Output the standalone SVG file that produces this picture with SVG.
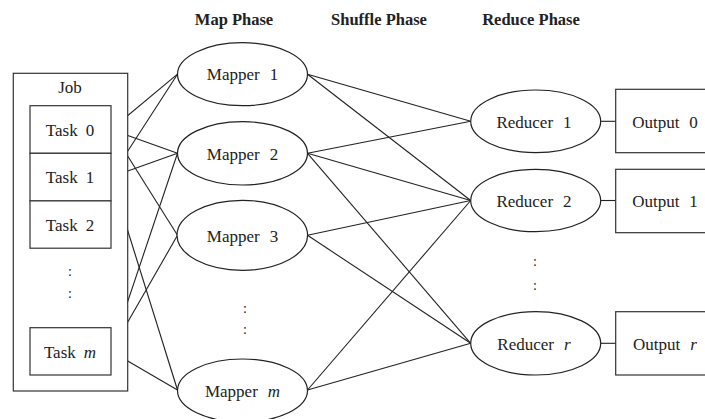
<svg xmlns="http://www.w3.org/2000/svg" width="705" height="419" viewBox="0 0 705 419">
  <style>
    .box { fill: #fff; stroke: #333; stroke-width: 1.2; }
    .node { fill: #fff; stroke: #222; stroke-width: 1.2; }
    .edge { stroke: #222; stroke-width: 1.1; fill: none; }
    text { font-family: "Liberation Serif", "Times New Roman", serif; font-size: 17px; fill: #222; text-anchor: middle; }
    .head { font-weight: bold; font-size: 16.5px; }
    .dots { font-size: 14px; }
    .it { font-style: italic; }
  </style>
  <rect width="705" height="419" fill="#fff"/>

  <!-- phase headers -->
  <g id="headers">
    <text class="head" x="234" y="25">Map Phase</text>
    <text class="head" x="379" y="25">Shuffle Phase</text>
    <text class="head" x="531" y="25">Reduce Phase</text>
  </g>

  <!-- connectors -->
  <g id="connectors">
    <!-- tasks to mappers -->
    <line class="edge" x1="111" y1="129.5" x2="177.5" y2="74.2"/>
    <line class="edge" x1="111" y1="129.5" x2="177.5" y2="153.3"/>
    <line class="edge" x1="111" y1="129.5" x2="177.5" y2="235.3"/>
    <line class="edge" x1="111" y1="177" x2="177.5" y2="74.2"/>
    <line class="edge" x1="111" y1="177" x2="177.5" y2="153.3"/>
    <line class="edge" x1="111" y1="177" x2="177.5" y2="390"/>
    <line class="edge" x1="111" y1="351.3" x2="177.5" y2="153.3"/>
    <line class="edge" x1="111" y1="351.3" x2="177.5" y2="235.3"/>
    <line class="edge" x1="111" y1="351.3" x2="177.5" y2="390"/>
    <!-- mappers to reducers -->
    <line class="edge" x1="307.5" y1="74.2" x2="470.7" y2="121.3"/>
    <line class="edge" x1="307.5" y1="74.2" x2="470.7" y2="200.5"/>
    <line class="edge" x1="307.5" y1="153.3" x2="470.7" y2="121.3"/>
    <line class="edge" x1="307.5" y1="153.3" x2="470.7" y2="200.5"/>
    <line class="edge" x1="307.5" y1="153.3" x2="470.7" y2="343.3"/>
    <line class="edge" x1="307.5" y1="235.3" x2="470.7" y2="200.5"/>
    <line class="edge" x1="307.5" y1="235.3" x2="470.7" y2="343.3"/>
    <line class="edge" x1="307.5" y1="390" x2="470.7" y2="200.5"/>
    <line class="edge" x1="307.5" y1="390" x2="470.7" y2="343.3"/>
    <!-- reducers to outputs -->
    <line class="edge" x1="600.7" y1="121.3" x2="615.7" y2="121.3"/>
    <line class="edge" x1="600.7" y1="200.5" x2="615.7" y2="200.5"/>
    <line class="edge" x1="600.7" y1="343.3" x2="615.7" y2="343.3"/>
  </g>

  <!-- job with its tasks -->
  <g id="job">
    <rect class="box" x="13.3" y="73.3" width="114.4" height="317.7"/>
    <text x="70" y="93">Job</text>
  </g>
  <g id="task0">
    <rect class="box" x="30" y="105.7" width="81" height="47.6"/>
    <text x="70" y="135.5">Task<tspan dx="8">0</tspan></text>
  </g>
  <g id="task1">
    <rect class="box" x="30" y="153.3" width="81" height="47.6"/>
    <text x="70" y="183">Task<tspan dx="8">1</tspan></text>
  </g>
  <g id="task2">
    <rect class="box" x="30" y="200.9" width="81" height="47.3"/>
    <text x="70" y="230.5">Task<tspan dx="8">2</tspan></text>
  </g>
  <g id="task-dots">
    <text class="dots" x="70" y="276">:</text>
    <text class="dots" x="70" y="298">:</text>
  </g>
  <g id="taskm">
    <rect class="box" x="30" y="327.7" width="81" height="47.3"/>
    <text x="70" y="357.5">Task<tspan class="it" dx="8">m</tspan></text>
  </g>

  <!-- mappers -->
  <g id="mapper1">
    <ellipse class="node" cx="242.5" cy="74.2" rx="65" ry="31.5"/>
    <text x="242.5" y="80">Mapper<tspan dx="10">1</tspan></text>
  </g>
  <g id="mapper2">
    <ellipse class="node" cx="242.5" cy="153.3" rx="65" ry="31.7"/>
    <text x="242.5" y="159.5">Mapper<tspan dx="10">2</tspan></text>
  </g>
  <g id="mapper3">
    <ellipse class="node" cx="242.3" cy="235.3" rx="65.3" ry="35"/>
    <text x="242.5" y="241.5">Mapper<tspan dx="10">3</tspan></text>
  </g>
  <g id="mapper-dots">
    <text class="dots" x="245" y="313">:</text>
    <text class="dots" x="245" y="334">:</text>
  </g>
  <g id="mapperm">
    <ellipse class="node" cx="242.5" cy="390.5" rx="65" ry="31.5"/>
    <text x="242.5" y="396.5">Mapper<tspan class="it" dx="10">m</tspan></text>
  </g>

  <!-- reducers -->
  <g id="reducer1">
    <ellipse class="node" cx="535.7" cy="121.3" rx="65" ry="31.3"/>
    <text x="534" y="127.5">Reducer<tspan dx="10">1</tspan></text>
  </g>
  <g id="reducer2">
    <ellipse class="node" cx="535.7" cy="200.5" rx="65" ry="31.2"/>
    <text x="534" y="206.5">Reducer<tspan dx="10">2</tspan></text>
  </g>
  <g id="reducer-dots">
    <text class="dots" x="535" y="266">:</text>
    <text class="dots" x="535" y="290">:</text>
  </g>
  <g id="reducerr">
    <ellipse class="node" cx="535.7" cy="343.3" rx="65" ry="31.7"/>
    <text x="534" y="349.5">Reducer<tspan class="it" dx="10">r</tspan></text>
  </g>

  <!-- outputs -->
  <g id="output0">
    <rect class="box" x="615.7" y="89.3" width="100" height="63.4"/>
    <text x="665" y="127.5">Output<tspan dx="10">0</tspan></text>
  </g>
  <g id="output1">
    <rect class="box" x="615.7" y="169.3" width="100" height="63.4"/>
    <text x="665" y="206.5">Output<tspan dx="10">1</tspan></text>
  </g>
  <g id="outputr">
    <rect class="box" x="615.7" y="311.7" width="100" height="63.3"/>
    <text x="665" y="349.5">Output<tspan class="it" dx="10">r</tspan></text>
  </g>
</svg>
